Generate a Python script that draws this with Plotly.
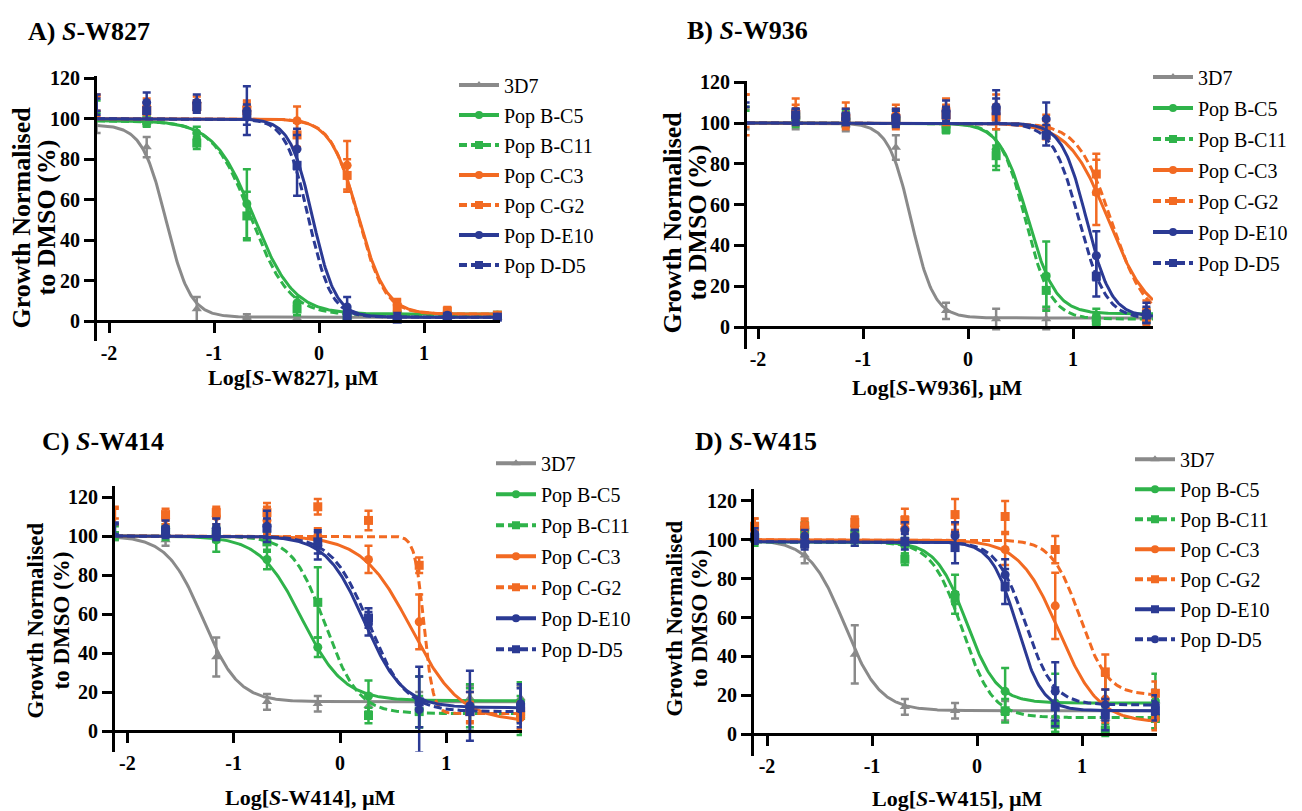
import numpy as np
import plotly.graph_objects as go

W, H = 1302, 811
OFF = 8  # default page body margin in the browser (px)

# ---------------- data ----------------
series = ["3D7", "Pop B-C5", "Pop B-C11", "Pop C-C3", "Pop C-G2", "Pop D-E10", "Pop D-D5"]
log_conc = [-2.118, -1.641, -1.164, -0.687, -0.209, 0.268, 0.745, 1.222, 1.699]
x_ticks = [-2, -1, 0, 1]
x_tick_text = ["-2", "-1", "0", "1"]
y_ticks = [0, 20, 40, 60, 80, 100, 120]
y_title_lines = ["Growth Normalised", "to DMSO (%)"]

# Panel A: S-W827  (mean, SD)
w827_3D7 = [96, 86, 6, 2, 1.5, 2, 2, 2, 2]
w827_3D7_err = [3, 5, 6, 1.5, 1.5, 1, 1, 1, 1]
w827_BC5 = [101, 98.5, 93, 58, 9, 4, 3, 3, 3]
w827_BC5_err = [2, 2, 3, 17, 3, 2, 1, 1, 1]
w827_BC11 = [104, 99, 88, 52, 6, 3, 3, 3, 3]
w827_BC11_err = [5, 3, 3, 12, 3, 2, 1, 1, 1]
w827_CC3 = [106, 106, 108, 106, 99, 77, 8, 4, 3]
w827_CC3_err = [5, 4, 3, 3, 7, 12, 3, 2, 1]
w827_CG2 = [108, 104, 106, 104, 92, 72, 7, 5, 3]
w827_CG2_err = [4, 4, 3, 4, 6, 8, 3, 2, 1]
w827_DE10 = [108, 108, 108, 104, 85, 7, 2, 3, 2]
w827_DE10_err = [4, 5, 4, 12, 10, 5, 2, 1, 1]
w827_DD5 = [106, 104, 106, 102, 77, 3, 1, 2, 2]
w827_DD5_err = [4, 4, 3, 5, 15, 2, 1, 1, 1]
w827_top = [97, 99, 99, 100, 100, 100, 100]
w827_bottom = [2, 3.5, 3, 3.5, 3.5, 2, 2]
w827_logic50 = [-1.455, -0.62, -0.645, 0.375, 0.37, -0.06, -0.10]
w827_hill = [3.8, 2.3, 2.4, 3.3, 3.4, 4.0, 4.0]

# Panel B: S-W936
w936_3D7 = [102, 101, 99, 88, 8, 4, 4, 4, 5]
w936_3D7_err = [5, 4, 3, 6, 4, 5, 5, 3, 3]
w936_BC5 = [104, 102, 102, 102, 98, 87, 25, 5, 6]
w936_BC5_err = [4, 4, 4, 4, 2, 10, 17, 4, 3]
w936_BC11 = [103, 103, 101, 101, 97, 84, 18, 3, 5]
w936_BC11_err = [3, 3, 3, 3, 2, 5, 8, 3, 3]
w936_CC3 = [104, 106, 104, 104, 107, 107, 98, 66, 8]
w936_CC3_err = [10, 6, 6, 5, 5, 7, 6, 16, 5]
w936_CG2 = [106, 104, 102, 102, 104, 103, 97, 75, 5]
w936_CG2_err = [8, 5, 5, 5, 5, 6, 4, 10, 4]
w936_DE10 = [105, 103, 102, 103, 106, 108, 102, 35, 7]
w936_DE10_err = [5, 4, 3, 4, 5, 8, 8, 12, 5]
w936_DD5 = [104, 104, 103, 102, 104, 106, 94, 25, 6]
w936_DD5_err = [4, 3, 4, 4, 4, 6, 5, 10, 4]
w936_top = [100, 100, 100, 100, 100, 100, 100]
w936_bottom = [4.5, 6.5, 4, 4, 3, 5, 4]
w936_logic50 = [-0.54, 0.57, 0.55, 1.34, 1.37, 1.13, 1.06]
w936_hill = [4.0, 3.3, 3.6, 2.3, 2.7, 3.7, 3.4]

# Panel C: S-W414
w414_3D7 = [100, 98, 38, 15, 14, 13, 15, 17, 17]
w414_3D7_err = [2, 3, 10, 4, 4, 6, 5, 6, 6]
w414_BC5 = [100, 101, 98, 88, 43, 18, 15, 12, 15]
w414_BC5_err = [2, 3, 6, 5, 5, 8, 13, 12, 10]
w414_BC11 = [102, 103, 101, 97, 66, 8, 10, 12, 8]
w414_BC11_err = [3, 3, 4, 5, 18, 4, 8, 10, 10]
w414_CC3 = [110, 109, 110, 108, 100, 88, 56, 12, 7]
w414_CC3_err = [4, 3, 4, 7, 4, 7, 14, 8, 6]
w414_CG2 = [112, 111, 112, 112, 115, 108, 85, 10, 10]
w414_CG2_err = [3, 3, 3, 5, 4, 5, 4, 5, 5]
w414_DE10 = [104, 104, 104, 105, 95, 55, 11, 13, 14]
w414_DE10_err = [3, 4, 5, 8, 7, 6, 22, 18, 10]
w414_DD5 = [103, 102, 102, 104, 97, 58, 15, 10, 12]
w414_DD5_err = [3, 3, 4, 5, 6, 5, 13, 10, 10]
w414_top = [100, 100, 100, 100, 100, 100, 100]
w414_bottom = [15, 15.5, 9, 5, 9, 12, 10]
w414_logic50 = [-1.29, -0.36, -0.14, 0.67, 0.79, 0.23, 0.27]
w414_hill = [2.6, 2.2, 2.8, 1.9, 10.0, 2.4, 2.5]

# Panel D: S-W415
w415_3D7 = [100, 92, 41, 14, 12, 12, 9, 8, 17]
w415_3D7_err = [2, 4, 15, 4, 4, 5, 3, 5, 6]
w415_BC5 = [100, 101, 100, 97, 72, 22, 16, 15, 17]
w415_BC5_err = [3, 4, 3, 4, 10, 12, 15, 15, 14]
w415_BC11 = [101, 105, 103, 90, 70, 12, 5, 2, 8]
w415_BC11_err = [3, 4, 3, 3, 3, 6, 4, 3, 5]
w415_CC3 = [105, 106, 107, 106, 103, 95, 66, 18, 8]
w415_CC3_err = [6, 4, 4, 6, 5, 8, 17, 12, 6]
w415_CG2 = [107, 107, 109, 110, 113, 112, 95, 32, 21]
w415_CG2_err = [4, 4, 3, 6, 8, 8, 7, 9, 6]
w415_DE10 = [101, 98, 101, 99, 96, 76, 14, 10, 12]
w415_DE10_err = [3, 3, 4, 4, 8, 9, 10, 8, 5]
w415_DD5 = [103, 102, 102, 105, 102, 82, 22, 15, 15]
w415_DD5_err = [3, 3, 3, 4, 7, 8, 15, 8, 5]
w415_top = [100, 99, 99, 100, 100, 99, 99]
w415_bottom = [12, 16, 8.5, 6, 20, 12, 15]
w415_logic50 = [-1.26, -0.10, -0.14, 0.78, 0.98, 0.38, 0.46]
w415_hill = [2.6, 3.0, 3.0, 2.3, 3.3, 3.6, 3.2]

# ---------------- styles ----------------
GREY, GREEN, ORANGE, BLUE = "#8a8a8a", "#2fb34a", "#f26a22", "#2b3a94"
colors = [GREY, GREEN, GREEN, ORANGE, ORANGE, BLUE, BLUE]
DASH = "8px,4px"
dashes = ["solid", "solid", DASH, "solid", DASH, "solid", DASH]
sym_std = ["triangle-up", "circle", "square", "circle", "square", "circle", "square"]
sym_d = ["triangle-up", "circle", "square", "circle", "square", "square", "circle"]
FONT = "Liberation Serif"

# layout positions below are in screen pixels
panels = [
    dict(label="A", drug="W827",
         means=[w827_3D7, w827_BC5, w827_BC11, w827_CC3, w827_CG2, w827_DE10, w827_DD5],
         errs=[w827_3D7_err, w827_BC5_err, w827_BC11_err, w827_CC3_err, w827_CG2_err, w827_DE10_err, w827_DD5_err],
         fit=(w827_top, w827_bottom, w827_logic50, w827_hill), syms=sym_std,
         x0=319, xu=105, left=97, right=500, y0=315, y120=69, top=67, bot=335,
         title_xy=(26, 22), ytitle_x=(22, 47), ytitle_y=210, ytitle_size=26,
         xtitle_xy=(293, 372), leg_x=460, leg_y=78, leg_gap=1),
    dict(label="B", drug="W936",
         means=[w936_3D7, w936_BC5, w936_BC11, w936_CC3, w936_CG2, w936_DE10, w936_DD5],
         errs=[w936_3D7_err, w936_BC5_err, w936_BC11_err, w936_CC3_err, w936_CG2_err, w936_DE10_err, w936_DD5_err],
         fit=(w936_top, w936_bottom, w936_logic50, w936_hill), syms=sym_std,
         x0=968, xu=105, left=747, right=1153, y0=321, y120=73, top=72, bot=343,
         title_xy=(685, 21), ytitle_x=(672, 697), ytitle_y=215, ytitle_size=26,
         xtitle_xy=(937, 382), leg_x=1154, leg_y=70, leg_gap=2),
    dict(label="C", drug="W414",
         means=[w414_3D7, w414_BC5, w414_BC11, w414_CC3, w414_CG2, w414_DE10, w414_DD5],
         errs=[w414_3D7_err, w414_BC5_err, w414_BC11_err, w414_CC3_err, w414_CG2_err, w414_DE10_err, w414_DD5_err],
         fit=(w414_top, w414_bottom, w414_logic50, w414_hill), syms=sym_std,
         x0=340, xu=106.3, left=115, right=522, y0=730, y120=493, top=482, bot=751,
         title_xy=(40, 437), ytitle_x=(35, 61), ytitle_y=618, ytitle_size=23,
         xtitle_xy=(310, 797), leg_x=497, leg_y=461, leg_gap=2),
    dict(label="D", drug="W415",
         means=[w415_3D7, w415_BC5, w415_BC11, w415_CC3, w415_CG2, w415_DE10, w415_DD5],
         errs=[w415_3D7_err, w415_BC5_err, w415_BC11_err, w415_CC3_err, w415_CG2_err, w415_DE10_err, w415_DD5_err],
         fit=(w415_top, w415_bottom, w415_logic50, w415_hill), syms=sym_d,
         x0=977, xu=105, left=754, right=1157, y0=733, y120=497, top=485, bot=755,
         title_xy=(693, 437), ytitle_x=(675, 700), ytitle_y=616, ytitle_size=23,
         xtitle_xy=(957, 798), leg_x=1136, leg_y=457, leg_gap=1),
]


def four_pl(x, top, bottom, logic50, hill):
    return bottom + (top - bottom) / (1.0 + 10.0 ** ((x - logic50) * hill))


def fx(px):
    return (px - OFF) / W


def fy(py):
    return 1 - (py - OFF) / H


fig = go.Figure()
layout = dict(width=W, height=H, margin=dict(l=0, r=0, t=0, b=0),
              paper_bgcolor="white", plot_bgcolor="white", showlegend=True,
              annotations=[])

axis_style = dict(showline=True, linewidth=3, linecolor="black", ticks="outside",
                  ticklen=10, tickwidth=2.5, tickcolor="black", showgrid=False,
                  zeroline=False,
                  tickfont=dict(family=FONT, size=20, color="black", weight="bold"))

for i, p in enumerate(panels):
    n = i + 1
    xs = "" if n == 1 else str(n)
    xref, yref = "x" + xs, "y" + xs
    legname = "legend" + xs

    xr = [(p["left"] - p["x0"]) / p["xu"], (p["right"] - p["x0"]) / p["xu"]]
    u = (p["y0"] - p["y120"]) / 120.0
    yr = [(p["y0"] - p["bot"]) / u, (p["y0"] - p["top"]) / u]

    layout["xaxis" + xs] = dict(domain=[fx(p["left"]), fx(p["right"])], range=xr,
                                anchor="free", position=fy(p["y0"]),
                                tickvals=x_ticks, ticktext=x_tick_text,
                                ticklabelstandoff=3, **axis_style)
    layout["yaxis" + xs] = dict(domain=[fy(p["bot"]), fy(p["top"])], range=yr,
                                anchor=xref, tickvals=y_ticks, **axis_style)

    xfit = np.linspace(xr[0], xr[1], 400)
    tops, bots, ics, hills = p["fit"]
    for k, name in enumerate(series):
        col = colors[k]
        yfit = four_pl(xfit, tops[k], bots[k], ics[k], hills[k])
        fig.add_trace(go.Scatter(x=xfit, y=yfit, mode="lines", xaxis=xref, yaxis=yref,
                                 line=dict(color=col, width=3, dash=dashes[k]),
                                 showlegend=False, hoverinfo="skip"))
        fig.add_trace(go.Scatter(x=log_conc, y=p["means"][k], mode="markers",
                                 xaxis=xref, yaxis=yref, cliponaxis=False,
                                 marker=dict(symbol=p["syms"][k], size=9, color=col),
                                 error_y=dict(type="data", array=p["errs"][k], color=col,
                                              thickness=2.5, width=4),
                                 showlegend=False))
        fig.add_trace(go.Scatter(x=[None], y=[None], mode="lines+markers", name=name,
                                 xaxis=xref, yaxis=yref, legend=legname,
                                 legendgroup=p["label"] + str(k),
                                 line=dict(color=col, width=4, dash=dashes[k]),
                                 marker=dict(symbol=p["syms"][k], size=8, color=col)))

    layout[legname] = dict(x=fx(p["leg_x"] - 6), xanchor="left",
                           y=fy(p["leg_y"] - 22), yanchor="top",
                           bgcolor="rgba(0,0,0,0)", itemwidth=40,
                           tracegroupgap=p["leg_gap"],
                           font=dict(family=FONT, size=20, color="black"))

    tx, ty = p["title_xy"]
    layout["annotations"].append(dict(
        text="<b>" + p["label"] + ") <i>S</i>-" + p["drug"] + "</b>",
        x=fx(tx), y=fy(ty), xref="paper", yref="paper", xanchor="left",
        yanchor="middle", showarrow=False,
        font=dict(family=FONT, size=26, color="black")))
    for line_text, lx in zip(y_title_lines, p["ytitle_x"]):
        layout["annotations"].append(dict(
            text="<b>" + line_text + "</b>", textangle=-90,
            x=fx(lx), y=fy(p["ytitle_y"]), xref="paper", yref="paper",
            xanchor="center", yanchor="middle", showarrow=False,
            font=dict(family=FONT, size=p["ytitle_size"], color="black")))
    xx, xy = p["xtitle_xy"]
    layout["annotations"].append(dict(
        text="<b>Log[<i>S</i>-" + p["drug"] + "], µM</b>",
        x=fx(xx), y=fy(xy), xref="paper", yref="paper", xanchor="center",
        yanchor="middle", showarrow=False,
        font=dict(family=FONT, size=22, color="black")))

fig.update_layout(**layout)
fig.write_html("out.html")
